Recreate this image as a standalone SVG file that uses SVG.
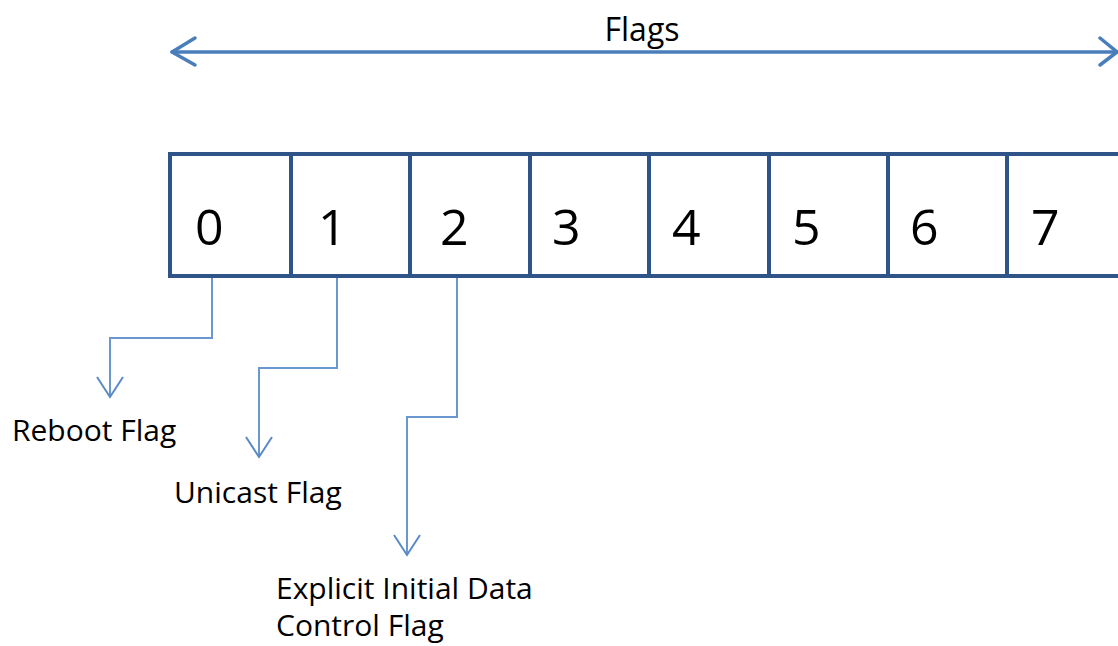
<svg xmlns="http://www.w3.org/2000/svg" width="1118" height="646" viewBox="0 0 1118 646">
<defs>
<style>
.cell{fill:#fff;stroke:#2E5488;stroke-width:4}
.digit{font-family:"Open Sans","Liberation Sans",sans-serif;font-size:50px;fill:#000}
.lbl{font-family:"Open Sans","Liberation Sans",sans-serif;font-size:30px;fill:#000}
.conn{fill:none;stroke:#6A97CF;stroke-width:2}
.head{fill:none;stroke:#5A8AC6;stroke-width:2}
.big{fill:none;stroke:#4A7EBB;stroke-width:3.5;stroke-linecap:round;stroke-linejoin:round}
</style>
</defs>
<rect width="1118" height="646" fill="#fff"/>
<g id="title">
<text class="lbl" x="642" y="41" text-anchor="middle" style="font-size:32px">Flags</text>
</g>
<g id="cells">
<g id="cell0"><rect class="cell" x="170" y="154" width="121" height="122"/><text class="digit" x="195" y="245">0</text></g>
<g id="cell1"><rect class="cell" x="291" y="154" width="119" height="122"/><text class="digit" x="318" y="245">1</text></g>
<g id="cell2"><rect class="cell" x="410" y="154" width="120" height="122"/><text class="digit" x="440" y="245">2</text></g>
<g id="cell3"><rect class="cell" x="530" y="154" width="119" height="122"/><text class="digit" x="552" y="245">3</text></g>
<g id="cell4"><rect class="cell" x="649" y="154" width="120" height="122"/><text class="digit" x="672" y="245">4</text></g>
<g id="cell5"><rect class="cell" x="769" y="154" width="119" height="122"/><text class="digit" x="792" y="245">5</text></g>
<g id="cell6"><rect class="cell" x="888" y="154" width="119" height="122"/><text class="digit" x="910" y="245">6</text></g>
<g id="cell7"><rect class="cell" x="1007" y="154" width="130" height="122"/><text class="digit" x="1031" y="245">7</text></g>
</g>
<g id="labels">
<g id="reboot"><text class="lbl" x="12" y="441">Reboot Flag</text></g>
<g id="unicast"><text class="lbl" x="174" y="503">Unicast Flag</text></g>
<g id="explicit"><text class="lbl" x="276" y="599">Explicit Initial Data</text><text class="lbl" x="276" y="636">Control Flag</text></g>
</g>
<g id="connectors">
<path class="big" d="M172 52 H1117"/>
<path class="big" d="M195 38 L172 52 L195 65"/>
<path class="big" d="M1100 38 L1117 52 L1100 65"/>
<path class="conn" d="M212 278 V338 H110 V397"/>
<path class="head" d="M97 377 L110 397 L123 377"/>
<path class="conn" d="M337 278 V368 H259 V457"/>
<path class="head" d="M246 437 L259 457 L272 437"/>
<path class="conn" d="M457 278 V417 H407 V555"/>
<path class="head" d="M394 535 L407 555 L420 535"/>
</g>
</svg>
